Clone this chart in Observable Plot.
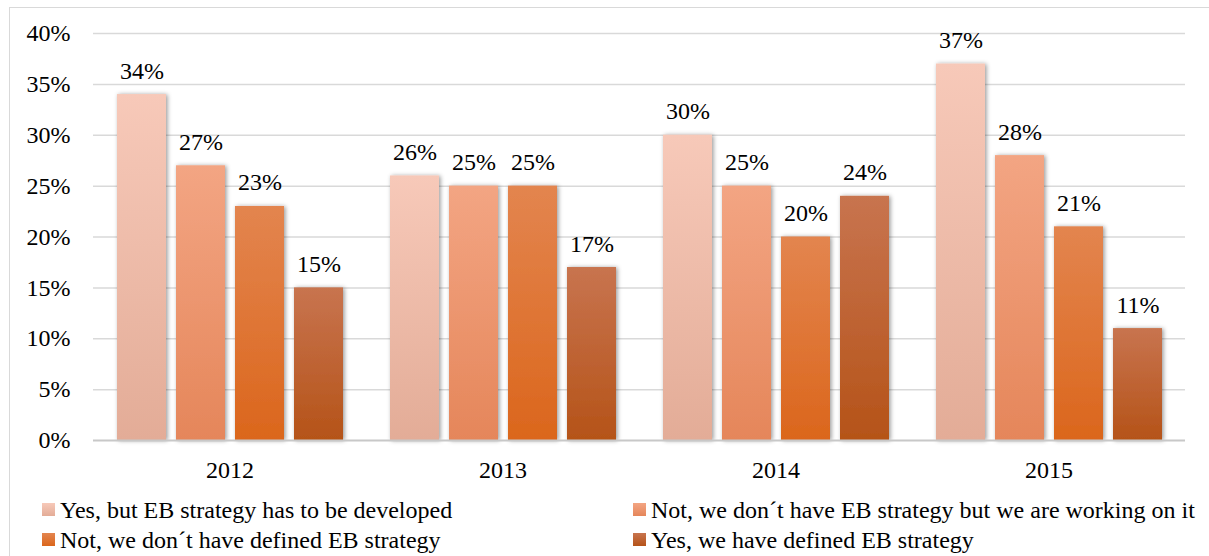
<!DOCTYPE html>
<html>
<head>
<meta charset="utf-8">
<script src="https://cdn.jsdelivr.net/npm/d3@7"></script>
<script src="https://cdn.jsdelivr.net/npm/@observablehq/plot@0.6"></script>
<style>
  html, body { margin: 0; padding: 0; background: #fff; }
  #wrap { position: relative; width: 1209px; height: 556px; overflow: hidden; font-family: 'Liberation Serif'; }
  #border { position: absolute; left: 9px; top: 7px; width: 1210px; height: 560px; border: 1.5px solid #d9d9d9; box-sizing: border-box; }
  #chart { position: absolute; left: 0; top: 0; }
</style>
</head>
<body>
<svg width="0" height="0" style="position:absolute">
  <defs id="defs"></defs>
</svg>
<div id="wrap">
  <div id="border"></div>
  <div id="chart"></div>
</div>
<script>
const years = ["2012", "2013", "2014", "2015"];
const series = [
  "Yes, but EB strategy has to be developed",
  "Not, we don´t have EB strategy but we are working on it",
  "Not, we don´t have defined EB strategy",
  "Yes, we have defined EB strategy"
];
const s1 = [34, 26, 30, 37];
const s2 = [27, 25, 25, 28];
const s3 = [23, 25, 20, 21];
const s4 = [15, 17, 24, 11];
const yTicks = [0, 5, 10, 15, 20, 25, 30, 35, 40];
const gradTop = ["#F7C9B9", "#F3A583", "#E3854F", "#C8744F"];
const gradBottom = ["#E3AC97", "#E5865A", "#DB661C", "#B55318"];
const FONT = "Liberation Serif";

const defs = d3.select("#defs");
gradTop.forEach((c, i) => {
  const g = defs.append("linearGradient").attr("id", "g" + i)
    .attr("x1", 0).attr("y1", 0).attr("x2", 0).attr("y2", 1);
  g.append("stop").attr("offset", "0%").attr("stop-color", c);
  g.append("stop").attr("offset", "100%").attr("stop-color", gradBottom[i]);
});
const f = defs.append("filter").attr("id", "shadow")
  .attr("x", "-20%").attr("y", "-5%").attr("width", "140%").attr("height", "110%");
f.append("feDropShadow").attr("dx", 1.5).attr("dy", 0.5).attr("stdDeviation", 2)
  .attr("flood-color", "#000").attr("flood-opacity", 0.4);

const all = [s1, s2, s3, s4];
const data = [];
years.forEach((y, yi) => {
  all.forEach((arr, si) => {
    data.push({year: y, series: series[si], idx: si, value: arr[yi]});
  });
});

const chart = Plot.plot({
  width: 1209,
  height: 490,
  marginLeft: 92,
  marginRight: 23,
  marginTop: 33,
  marginBottom: 50,
  style: {fontFamily: "'Liberation Serif'", fontSize: "24px", color: "#000", background: "transparent"},
  fx: {domain: years, padding: 0, label: null},
  x: {domain: series, paddingInner: 0.17, paddingOuter: 0.391, axis: null},
  y: {domain: [0, 40], axis: null},
  color: {type: "identity"},
  marks: [
    Plot.ruleY(yTicks.filter(d => d > 0), {stroke: "#d9d9d9", strokeWidth: 1.5}),
    Plot.barY(data, {fx: "year", x: "series", y: "value", fill: d => "url(#g" + d.idx + ")"}),
    Plot.ruleY([0], {stroke: "#c8c8c8", strokeWidth: 2}),
    Plot.text(data, {fx: "year", x: "series", y: "value", text: d => d.value + "%", lineAnchor: "bottom", dy: -16, fill: "#000", fontSize: 24}),
    Plot.axisY({ticks: yTicks, tickFormat: d => d + "%", tickSize: 0, tickPadding: 23, label: null, fontSize: 24}),
    Plot.axisFx({anchor: "bottom", tickSize: 0, tickPadding: 20, label: null, fontSize: 24})
  ]
});
document.getElementById("chart").appendChild(chart);
const sel = d3.select(chart);
sel.attr("font-family", FONT).style("font-family", "'Liberation Serif'");
sel.selectAll("g").attr("font-family", FONT);
sel.selectAll("text").attr("font-family", FONT).style("font-family", "'Liberation Serif'");
sel.selectAll("g[aria-label='bar'] rect").attr("filter", "url(#shadow)");

// legend
const wrap = document.getElementById("wrap");
const pos = [[42, 495], [633, 495], [42, 525], [633, 525]];
series.forEach((s, i) => {
  const el = document.createElement("div");
  el.setAttribute("style",
    `position:absolute;left:${pos[i][0]}px;top:${pos[i][1]}px;font-family:'Liberation Serif';font-size:24px;line-height:30px;color:#000;white-space:nowrap;`);
  const sw = document.createElement("span");
  sw.setAttribute("style",
    `display:inline-block;width:13px;height:13px;margin-right:5px;vertical-align:2px;background:linear-gradient(${gradTop[i]}, ${gradBottom[i]});`);
  el.appendChild(sw);
  el.appendChild(document.createTextNode(s));
  wrap.appendChild(el);
});
</script>
</body>
</html>
